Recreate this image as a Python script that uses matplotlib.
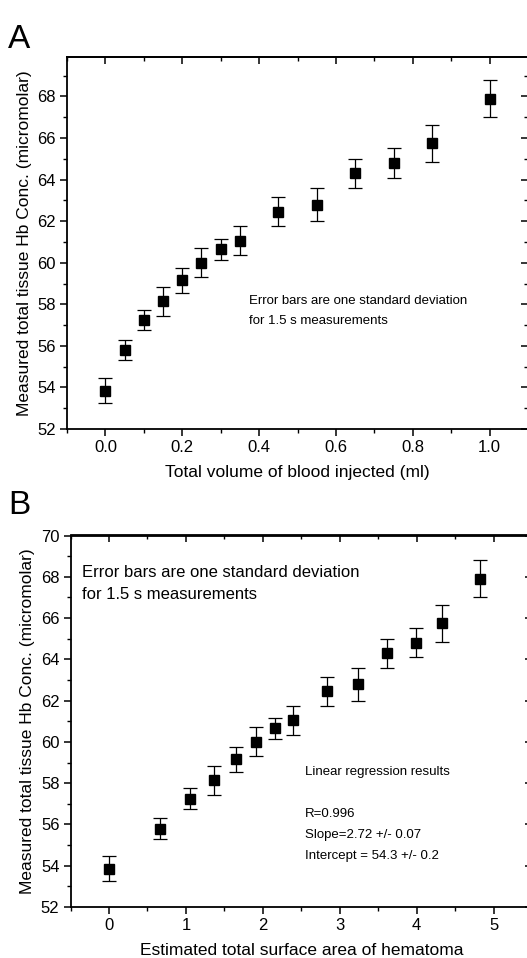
import numpy as np
import matplotlib
matplotlib.use("Agg")
import matplotlib.pyplot as plt
from matplotlib.ticker import MultipleLocator

plt.rcParams['font.family'] = ['Liberation Sans', 'DejaVu Sans']

# データ
vol_ml = [0.0, 0.05, 0.10, 0.15, 0.20, 0.25, 0.30, 0.35, 0.45, 0.55, 0.65, 0.75, 0.85, 1.0]
area   = [0.0, 0.66, 1.05, 1.36, 1.65, 1.91, 2.16, 2.39, 2.83, 3.24, 3.62, 3.99, 4.33, 4.83]
hb     = [53.85, 55.8, 57.25, 58.15, 59.15, 60.0, 60.65, 61.05, 62.45, 62.8, 64.3, 64.8, 65.75, 67.9]
hb_sd  = [0.6, 0.5, 0.5, 0.7, 0.6, 0.7, 0.5, 0.7, 0.7, 0.8, 0.7, 0.7, 0.9, 0.9]

W, H = 527, 958
fig = plt.figure(figsize=(W / 100, H / 100), dpi=100)


def px_axes(l, t, r, b):
    return fig.add_axes([l / W, 1 - b / H, (r - l) / W, (b - t) / H])


def style(ax, xmaj, xmin, xlim, ylim):
    ax.set_xlim(*xlim)
    ax.set_ylim(*ylim)
    ax.xaxis.set_major_locator(MultipleLocator(xmaj))
    ax.xaxis.set_minor_locator(MultipleLocator(xmin))
    ax.yaxis.set_major_locator(MultipleLocator(2))
    ax.yaxis.set_minor_locator(MultipleLocator(1))
    ax.tick_params(which='major', direction='out', length=5, width=1.1, labelsize=12, pad=3)
    ax.tick_params(which='minor', direction='out', length=3, width=1.0)
    for s in ax.spines.values():
        s.set_linewidth(1.3)
    # 上と右は内向きの目盛
    top = ax.secondary_xaxis('top')
    top.xaxis.set_major_locator(MultipleLocator(xmaj))
    top.xaxis.set_minor_locator(MultipleLocator(xmin))
    top.tick_params(which='major', direction='in', length=5, width=1.1, labeltop=False)
    top.tick_params(which='minor', direction='in', length=3, width=1.0)
    top.spines['top'].set_linewidth(1.3)
    right = ax.secondary_yaxis('right')
    right.yaxis.set_major_locator(MultipleLocator(2))
    right.yaxis.set_minor_locator(MultipleLocator(1))
    right.tick_params(which='major', direction='in', length=5, width=1.1, labelright=False)
    right.tick_params(which='minor', direction='in', length=3, width=1.0)


ylab = "Measured total tissue Hb Conc. (micromolar)"

# A
ax = px_axes(67, 57, 528, 429)
ax.errorbar(vol_ml, hb, yerr=hb_sd, fmt='s', color='black', ms=6.5,
            ecolor='black', elinewidth=0.9, capsize=5, capthick=0.9)
style(ax, 0.2, 0.1, (-0.1, 1.1), (52, 69.9))
ax.set_xticklabels([f"{v:.1f}" for v in ax.get_xticks()])
ax.set_xlabel("Total volume of blood injected (ml)", fontsize=12.5, labelpad=7)
ax.set_ylabel(ylab, fontsize=12.5, labelpad=4)
ax.text(0.395, 0.345, "Error bars are one standard deviation", transform=ax.transAxes,
        fontsize=9.5, va='center')
ax.text(0.395, 0.290, "for 1.5 s measurements", transform=ax.transAxes,
        fontsize=9.5, va='center')
fig.text(8 / W, 1 - 40 / H, "A", fontsize=24, va='center', ha='left')

# B
ax = px_axes(70.6, 535.5, 532, 907)
ax.errorbar(area, hb, yerr=hb_sd, fmt='s', color='black', ms=6.5,
            ecolor='black', elinewidth=0.9, capsize=5, capthick=0.9)
style(ax, 1, 0.5, (-0.5, 5.5), (52, 70))
ax.set_xlabel("Estimated total surface area of hematoma", fontsize=12.5, labelpad=7)
ax.set_ylabel(ylab, fontsize=12.5, labelpad=4)
ax.text(0.025, 0.90, "Error bars are one standard deviation", transform=ax.transAxes,
        fontsize=12, va='center')
ax.text(0.025, 0.84, "for 1.5 s measurements", transform=ax.transAxes,
        fontsize=12, va='center')
ax.text(0.508, 0.363, "Linear regression results", transform=ax.transAxes,
        fontsize=9.5, va='center')
ax.text(0.508, 0.250, "R=0.996", transform=ax.transAxes, fontsize=9.5, va='center')
ax.text(0.508, 0.194, "Slope=2.72 +/- 0.07", transform=ax.transAxes, fontsize=9.5, va='center')
ax.text(0.508, 0.138, "Intercept = 54.3 +/- 0.2", transform=ax.transAxes, fontsize=9.5, va='center')
fig.text(8 / W, 1 - 506 / H, "B", fontsize=24, va='center', ha='left')

fig.savefig("out.png", dpi=100)
